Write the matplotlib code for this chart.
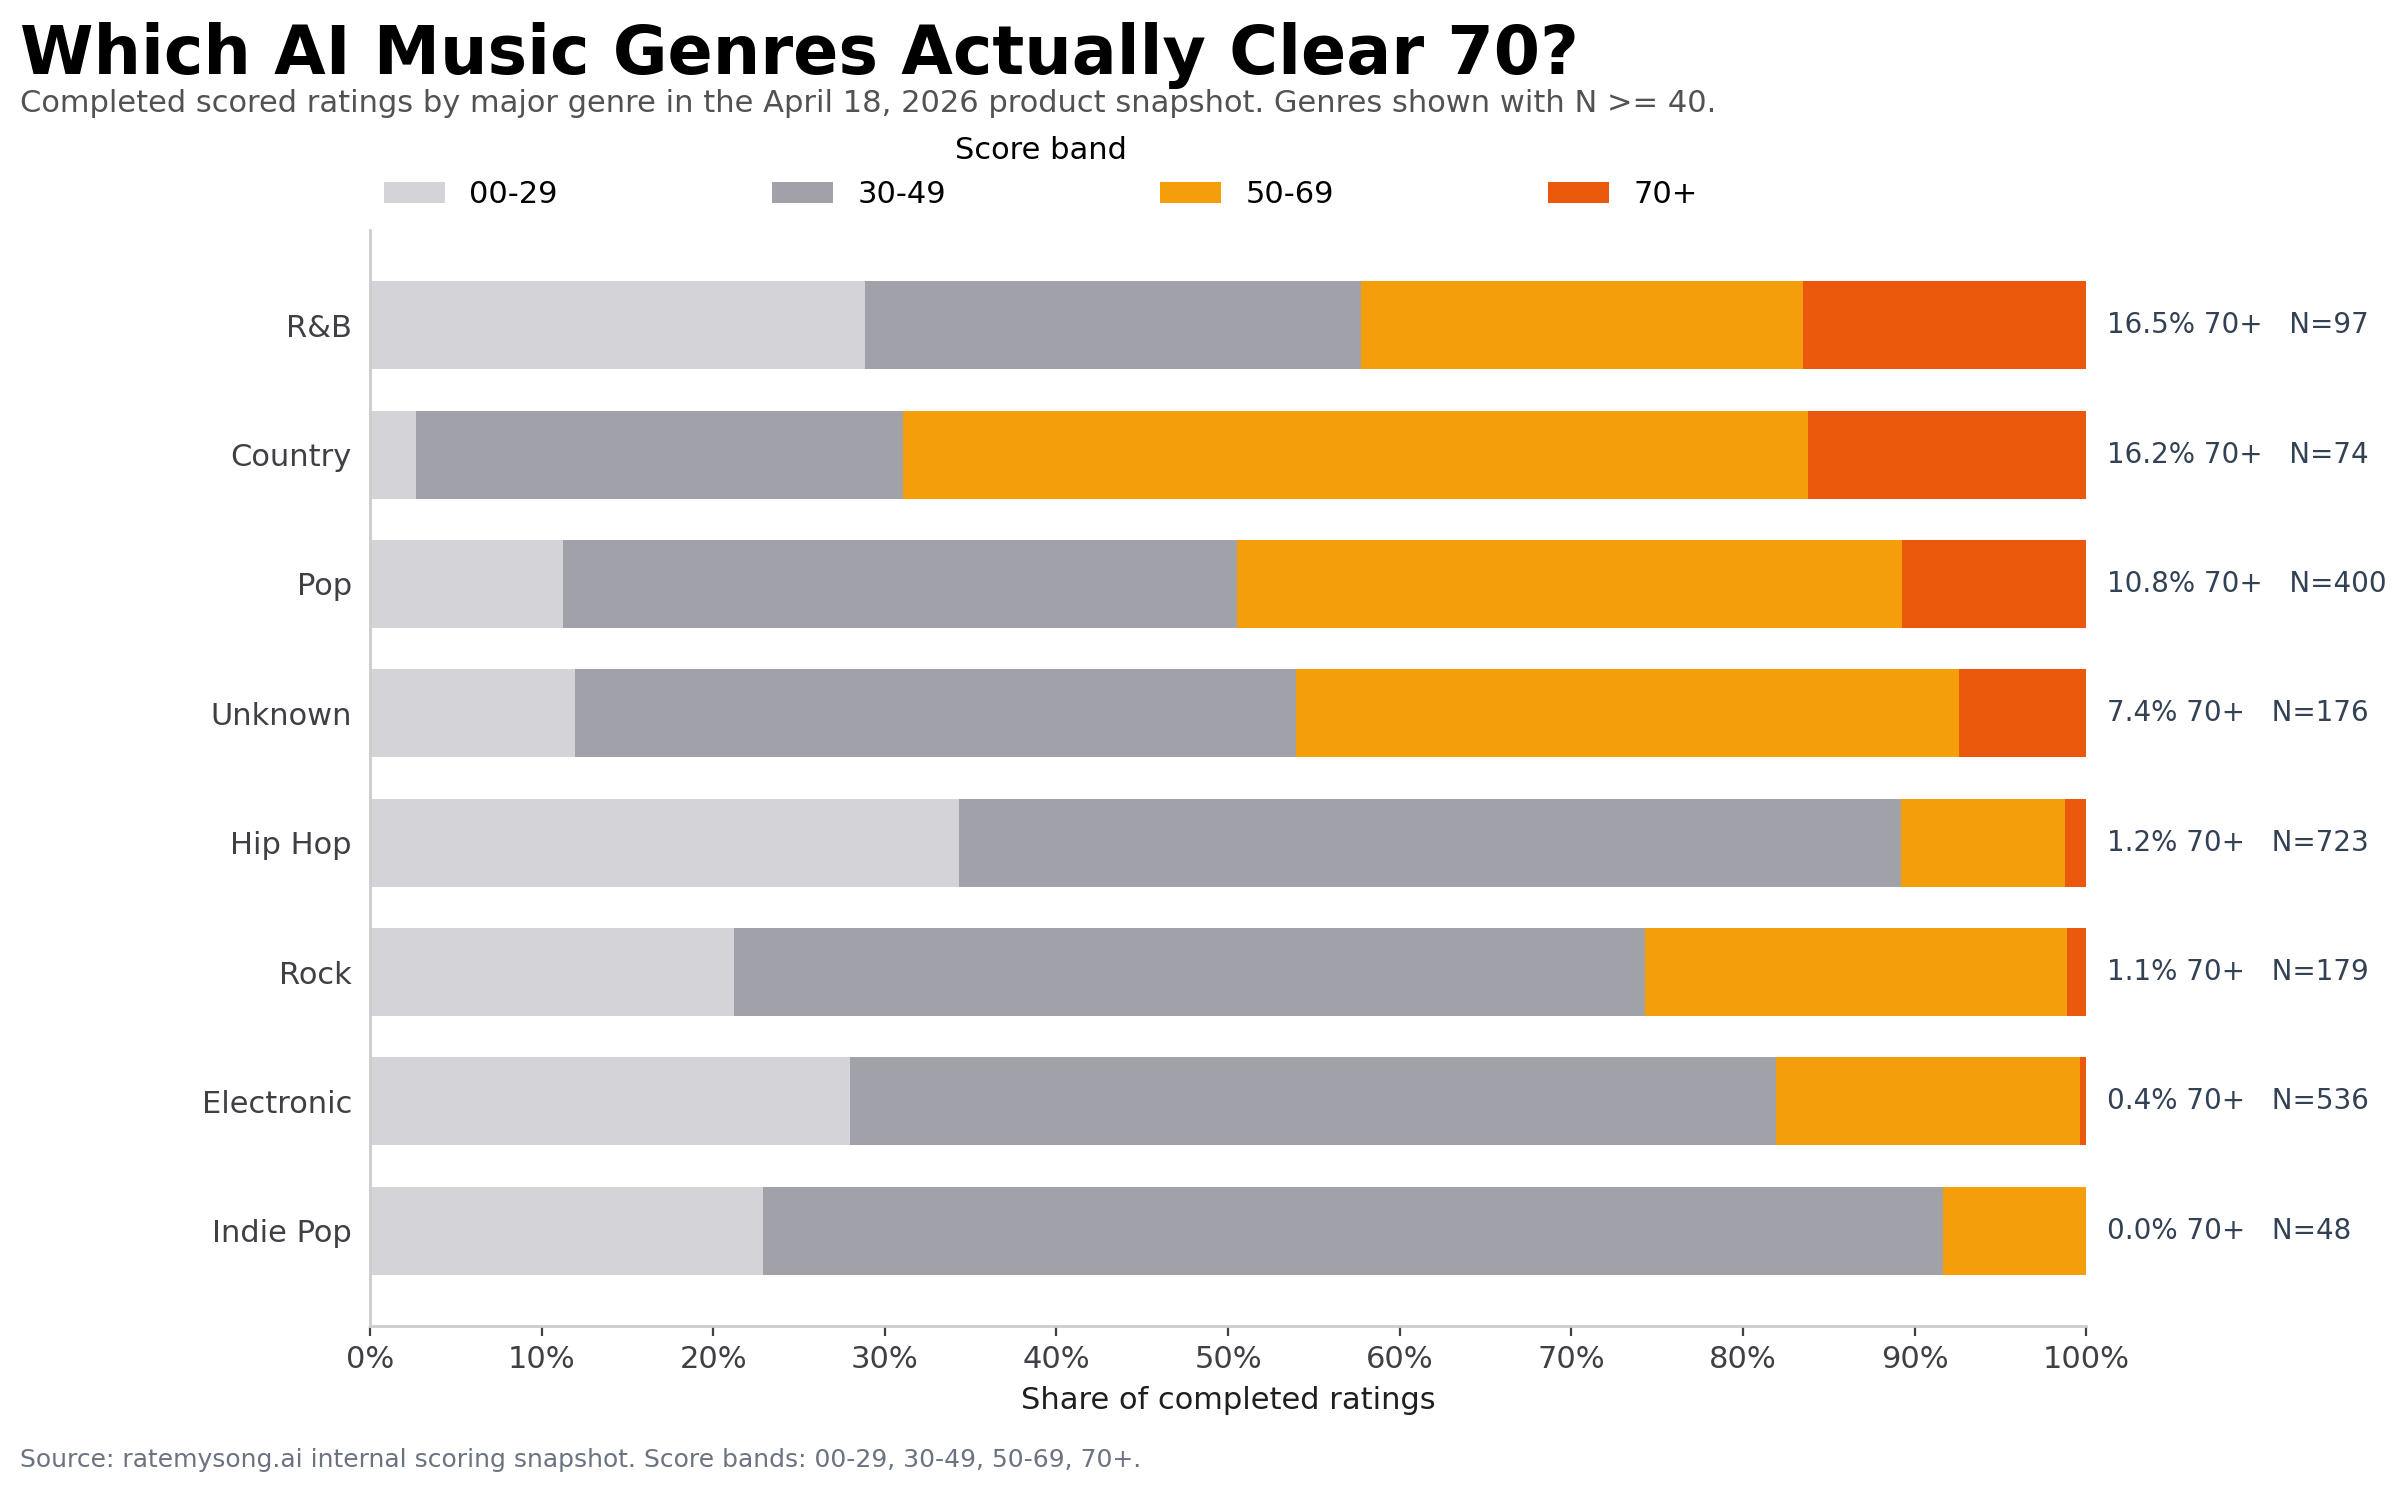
import matplotlib
matplotlib.use("Agg")
from matplotlib import pyplot as plt
from matplotlib.ticker import FuncFormatter
import numpy as np

# Data: counts per score band
genres = ["R&B", "Country", "Pop", "Unknown", "Hip Hop", "Rock", "Electronic", "Indie Pop"]
bands = ["00-29", "30-49", "50-69", "70+"]
band_00_29 = [28, 2, 45, 21, 248, 38, 150, 11]
band_30_49 = [28, 21, 157, 74, 397, 95, 289, 33]
band_50_69 = [25, 39, 155, 68, 69, 44, 95, 4]
band_70_up = [16, 12, 43, 13, 9, 2, 2, 0]

colors = ["#d4d4d8", "#a1a1aa", "#f59e0b", "#ea580c"]

counts = np.array([band_00_29, band_30_49, band_50_69, band_70_up], dtype=float)
totals = counts.sum(axis=0)
shares = counts / totals * 100

fig = plt.figure(figsize=(12.035, 7.455), dpi=200)
ax = fig.add_axes([0.1537, 0.1107, 0.713, 0.735])

y = np.arange(len(genres))
left = np.zeros(len(genres))
for i, band in enumerate(bands):
    ax.barh(y, shares[i], left=left, height=0.68, color=colors[i], label=band)
    left += shares[i]

# Right side annotations
for yi, s70, n in zip(y, shares[3], totals):
    ax.text(101.2, yi, f"{s70:.1f}% 70+   N={int(n)}", va="center", ha="left",
            fontsize=10, color="#334155", clip_on=False)

ax.set_xlim(0, 100)
ax.set_ylim(7.735, -0.735)
ax.set_yticks(y)
ax.set_yticklabels(genres)
ax.set_xticks(np.arange(0, 101, 10))
ax.xaxis.set_major_formatter(FuncFormatter(lambda v, p: f"{v:.0f}%"))
ax.tick_params(axis="y", length=0, pad=6.5, labelsize=11, labelcolor="#3f3f46")
ax.tick_params(axis="x", labelsize=11, labelcolor="#3f3f46", color="#3f3f46")
ax.set_xlabel("Share of completed ratings", fontsize=11, color="#1f1f1f", labelpad=4)

for side in ["top", "right"]:
    ax.spines[side].set_visible(False)
for side in ["left", "bottom"]:
    ax.spines[side].set_color("#cccccc")
    ax.spines[side].set_linewidth(1.0)

leg = ax.legend(title="Score band", ncol=4, loc="lower left", bbox_to_anchor=(-0.008, 0.994),
                frameon=False, fontsize=11, title_fontsize=11, columnspacing=7.0)

fig.text(0.0083, 0.9506, "Which AI Music Genres Actually Clear 70?", fontsize=24,
         fontweight="bold", color="black", va="baseline", ha="left")
fig.text(0.0083, 0.925, "Completed scored ratings by major genre in the April 18, 2026 product snapshot. "
         "Genres shown with N >= 40.", fontsize=11, color="#525252", va="baseline", ha="left")
fig.text(0.0083, 0.0163, "Source: ratemysong.ai internal scoring snapshot. Score bands: 00-29, 30-49, 50-69, 70+.",
         fontsize=9, color="#6b7280", va="baseline", ha="left")

fig.savefig("out.png", dpi=200)
